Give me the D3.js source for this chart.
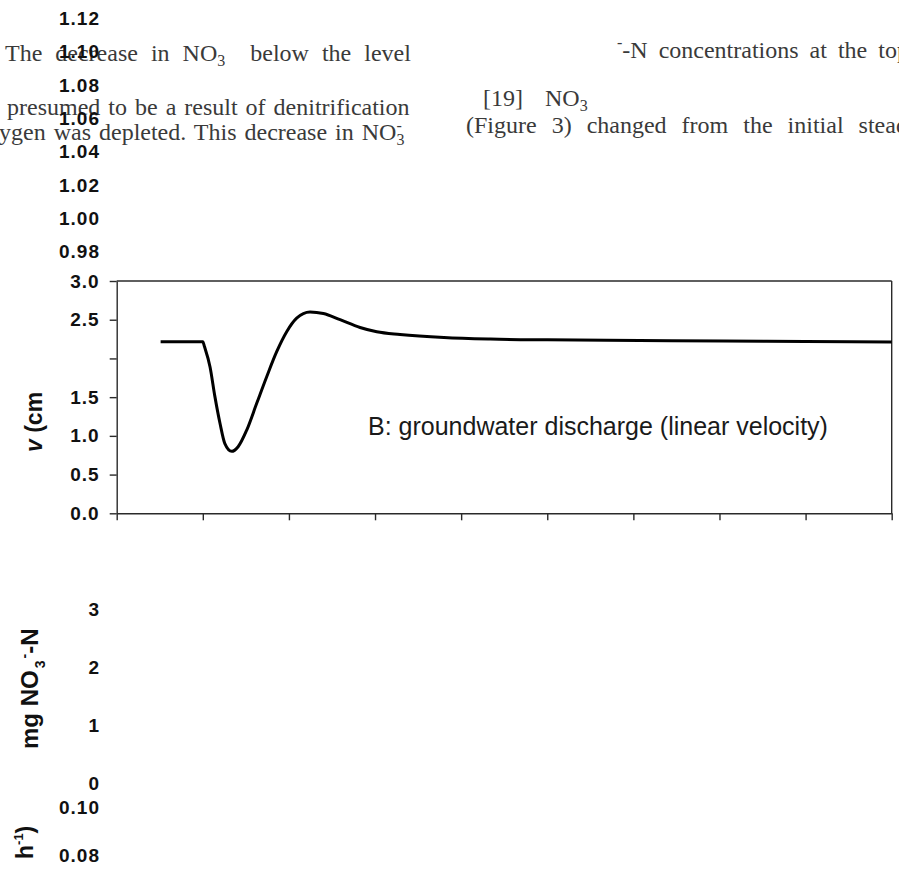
<!DOCTYPE html>
<html>
<head>
<meta charset="utf-8">
<script src="https://cdn.jsdelivr.net/npm/d3@7"></script>
<style>
  html, body { margin: 0; padding: 0; background: #fff; }
  svg { display: block; }
</style>
</head>
<body>
<svg id="fig" width="899" height="873"></svg>
<script>
// Groundwater discharge (linear velocity) over time, panel B
const timeValues     = [0.51, 1.00, 1.02, 1.084, 1.14, 1.20, 1.256, 1.336, 1.41, 1.51, 1.626, 1.742, 1.858, 1.974, 2.09, 2.245, 2.40, 2.594, 2.826, 3.02, 3.29, 3.80, 4.34, 5.00, 5.69, 7.05, 8.00, 9.00];
const velocityValues = [2.216, 2.216, 2.15, 1.89, 1.51, 1.16, 0.90, 0.80, 0.86, 1.075, 1.42, 1.764, 2.087, 2.345, 2.52, 2.60, 2.58, 2.50, 2.40, 2.345, 2.31, 2.27, 2.25, 2.24, 2.234, 2.225, 2.218, 2.212];

// Axis ticks of panel B (the x axis carries no labels)
const timeTicks = [0, 1, 2, 3, 4, 5, 6, 7, 8, 9];
const velocityTicks = [0, 0.5, 1.0, 1.5, 2.0, 2.5, 3.0];
const velocityTickLabels = ["0.0", "0.5", "1.0", "1.5", "", "2.5", "3.0"];

// Tick labels of the neighbouring panels
const ratioTicks = [0.98, 1.00, 1.02, 1.04, 1.06, 1.08, 1.10, 1.12];
const nitrateTicks = [0, 1, 2, 3];
const rateTicks = [0.08, 0.10];

const panelLabel = "B: groundwater discharge (linear velocity)";

const svg = d3.select("#fig");
const tickFont = "'Liberation Sans', Arial, sans-serif";
const serif = "'Liberation Serif', 'Times New Roman', serif";

// ---------- body text of the page ----------
const txt = svg.append("g")
  .attr("font-family", serif)
  .attr("font-size", 24)
  .attr("fill", "#3a3a3a");

function addLine(xPos, yPos, ws, parts) {
  const t = txt.append("text").attr("x", xPos).attr("y", yPos).attr("word-spacing", ws);
  parts.forEach(p => {
    const s = t.append("tspan").text(p.s);
    if (p.sub) s.attr("font-size", 16).attr("dy", 5);
    if (p.sup) s.attr("font-size", 16).attr("dy", p.dy);
    if (p.back) s.attr("dy", p.back);
    if (p.dx) s.attr("dx", p.dx);
  });
}

addLine(5, 61, 7, [
  { s: "The decrease in NO" }, { s: "3", sub: true },
  { s: "below the level", back: -5, dx: 25 }
]);
addLine(7, 115, 2, [{ s: "presumed to be a result of denitrification" }]);
addLine(-1, 140, 2, [
  { s: "ygen was depleted. This decrease in NO" }, { s: "3", sub: true },
  { s: "-", sup: true, dy: -14, dx: -8 }
]);
addLine(617, 58, 5, [
  { s: "-", sup: true, dy: -10 },
  { s: "-N concentrations at the top", back: 10 }
]);
addLine(483, 106, 0, [
  { s: "[19]" },
  { s: "NO", dx: 22 }, { s: "3", sub: true }
]);
addLine(466, 133, 9, [{ s: "(Figure 3) changed from the initial steady" }]);

// ---------- floating tick labels of neighbouring panels ----------
function floatingAxis(domain, range, ticks, fmt) {
  const s = d3.scaleLinear().domain(domain).range(range);
  const g = svg.append("g")
    .attr("transform", "translate(100,0)")
    .call(d3.axisLeft(s).tickValues(ticks).tickSize(0).tickPadding(0).tickFormat(fmt));
  g.select(".domain").remove();
  g.selectAll("text")
    .attr("font-family", tickFont).attr("font-weight", "bold")
    .attr("font-size", 19).attr("letter-spacing", 1).attr("fill", "#111");
}
floatingAxis([0.98, 1.12], [251.6, 18.3], ratioTicks, d3.format(".2f"));
floatingAxis([0, 3], [783, 609], nitrateTicks, d3.format("d"));
floatingAxis([0.08, 0.10], [855, 807], rateTicks, d3.format(".2f"));

// rotated axis titles of the neighbouring panels
const nTitle = svg.append("text")
  .attr("transform", "translate(38,749) rotate(-90)")
  .attr("font-family", tickFont).attr("font-weight", "bold")
  .attr("font-size", 24).attr("fill", "#111");
nTitle.append("tspan").text("mg NO");
nTitle.append("tspan").text("3").attr("font-size", 14).attr("dy", 7).attr("dx", 2);
nTitle.append("tspan").text("-").attr("font-size", 14).attr("dy", -16).attr("dx", 2);
nTitle.append("tspan").text("-N").attr("dy", 9);

const kTitle = svg.append("text")
  .attr("transform", "translate(33,859) rotate(-90)")
  .attr("font-family", tickFont).attr("font-weight", "bold")
  .attr("font-size", 23).attr("fill", "#111");
kTitle.append("tspan").text("h");
kTitle.append("tspan").text("-1").attr("font-size", 13).attr("dy", -10);
kTitle.append("tspan").text(")").attr("dy", 10);

// ---------- panel B ----------
const x = d3.scaleLinear().domain([0, 9]).range([116.7, 891.7]);
const y = d3.scaleLinear().domain([0, 3]).range([513.3, 281]);

const axisColor = "#2a2a2a";

const gx = svg.append("g")
  .attr("transform", `translate(0,${y(0)})`)
  .call(d3.axisBottom(x).tickValues(timeTicks).tickSize(7).tickSizeOuter(0).tickFormat(""));
gx.selectAll("path, line").attr("stroke", axisColor).attr("stroke-width", 1.4);

const gy = svg.append("g")
  .attr("transform", `translate(${x(0)},0)`)
  .call(d3.axisLeft(y).tickValues(velocityTicks).tickSize(7).tickSizeOuter(0).tickPadding(10)
    .tickFormat((d, i) => velocityTickLabels[i]));
gy.selectAll("path, line").attr("stroke", axisColor).attr("stroke-width", 1.4);
gy.selectAll("text")
  .attr("font-family", tickFont).attr("font-weight", "bold")
  .attr("font-size", 19).attr("letter-spacing", 1).attr("fill", "#111");

// plot frame: top and right edges
svg.append("line")
  .attr("x1", x(0)).attr("x2", x(9)).attr("y1", y(3)).attr("y2", y(3))
  .attr("stroke", axisColor).attr("stroke-width", 1.4);
svg.append("line")
  .attr("x1", x(9)).attr("x2", x(9)).attr("y1", y(3)).attr("y2", y(0))
  .attr("stroke", axisColor).attr("stroke-width", 1.4);

// y title (cut short in the layout)
const vTitle = svg.append("text")
  .attr("transform", `translate(42,${y(1.18)}) rotate(-90)`)
  .attr("text-anchor", "middle")
  .attr("font-family", tickFont).attr("font-weight", "bold")
  .attr("font-size", 23).attr("fill", "#111");
vTitle.append("tspan").text("v").attr("font-style", "italic");
vTitle.append("tspan").text(" (cm");

// velocity curve
const series = timeValues.map((t, i) => ({ t, v: velocityValues[i] }));
svg.append("path")
  .datum(series)
  .attr("fill", "none")
  .attr("stroke", "#000")
  .attr("stroke-width", 3)
  .attr("stroke-linejoin", "round")
  .attr("d", d3.line().x(d => x(d.t)).y(d => y(d.v)).curve(d3.curveMonotoneX));

svg.append("text")
  .attr("x", 368).attr("y", 435)
  .attr("font-family", tickFont).attr("font-size", 25).attr("fill", "#1a1a1a")
  .text(panelLabel);
</script>
</body>
</html>
